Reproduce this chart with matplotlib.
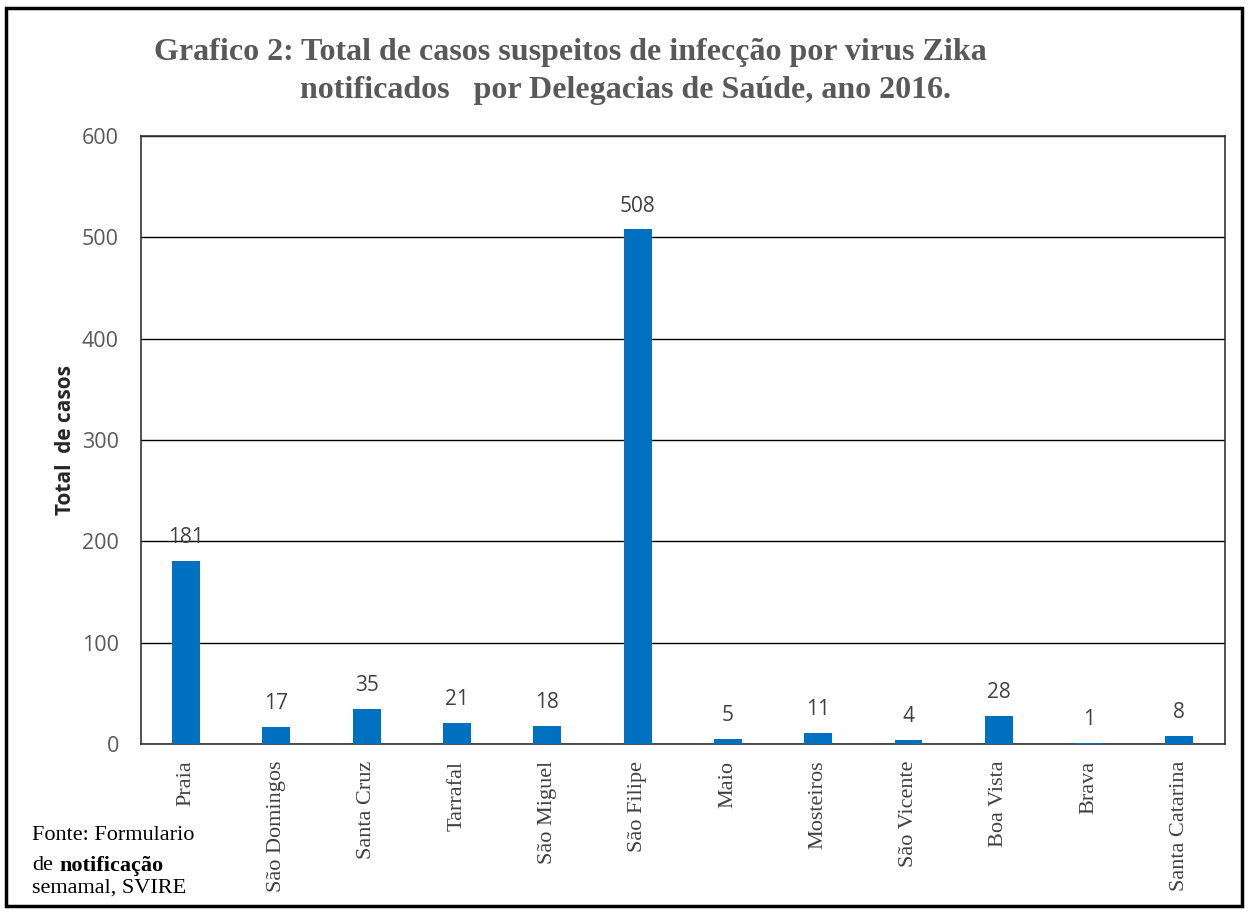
import matplotlib.pyplot as plt
from matplotlib.patches import Rectangle

# data
delegacias = ['Praia', 'São Domingos', 'Santa Cruz', 'Tarrafal', 'São Miguel',
              'São Filipe', 'Maio', 'Mosteiros', 'São Vicente', 'Boa Vista',
              'Brava', 'Santa Catarina']
casos = [181, 17, 35, 21, 18, 508, 5, 11, 4, 28, 1, 8]
y_ticks = [0, 100, 200, 300, 400, 500, 600]

fig = plt.figure(figsize=(12.49, 9.13), dpi=100)
ax = fig.add_axes([0.1129, 0.1851, 0.8675, 0.6659])

x = list(range(len(delegacias)))
ax.bar(x, casos, width=0.31, color='#0070C0', zorder=3)

ax.set_xlim(-0.5, len(delegacias) - 0.5)
ax.set_ylim(0, 600)
ax.set_yticks(y_ticks)
ax.yaxis.grid(True, color='black', linewidth=1.0, zorder=0)
for s in ax.spines.values():
    s.set_color('#333333')
    s.set_linewidth(1.2)

ax.tick_params(axis='both', length=0)
ax.tick_params(axis='y', pad=16)
for lab in ax.get_yticklabels():
    lab.set_fontfamily('Open Sans')
    lab.set_fontsize(15.5)
    lab.set_color('#595959')

ax.set_xticks(x)
ax.set_xticklabels(delegacias, rotation=90, fontfamily='Liberation Serif',
                   fontsize=16, color='#404040', va='top')
ax.tick_params(axis='x', pad=12)

ax.set_ylabel('Total  de casos', fontfamily='Open Sans', fontsize=15,
              fontweight='bold', color='#262626', labelpad=4)

# value labels over the bars
for xi, v in zip(x, casos):
    ax.annotate(str(v), (xi, v), xytext=(0, 9), textcoords='offset points',
                ha='center', va='bottom', fontfamily='Open Sans', fontsize=15,
                color='#404040')

# title, two lines not centred on each other
fig.text(0.457, 0.943, 'Grafico 2: Total de casos suspeitos de infecção por virus Zika',
         ha='center', va='center', fontfamily='Liberation Serif', fontsize=23,
         fontweight='bold', color='#595959')
fig.text(0.501, 0.901, 'notificados   por Delegacias de Saúde, ano 2016.',
         ha='center', va='center', fontfamily='Liberation Serif', fontsize=23,
         fontweight='bold', color='#595959')

# source note
fig.text(0.026, 0.085, 'Fonte: Formulario', fontfamily='Liberation Serif',
         fontsize=16, color='black', va='center')
t_de = fig.text(0.026, 0.052, 'de', fontfamily='Liberation Serif',
                fontsize=16, color='black', va='center')
r = fig.canvas.get_renderer()
bb = t_de.get_window_extent(renderer=r).transformed(fig.transFigure.inverted())
fig.text(bb.x1 + 0.005, 0.052, 'notificação', fontfamily='Liberation Serif',
         fontsize=16, fontweight='bold', color='black', va='center')
fig.text(0.026, 0.027, 'semamal, SVIRE', fontfamily='Liberation Serif',
         fontsize=16, color='black', va='center')

# outer border
fig.patches.append(Rectangle((0.005, 0.008), 0.989, 0.983, transform=fig.transFigure,
                             fill=False, edgecolor='black', linewidth=2.5))

fig.savefig('out.png', dpi=100)
